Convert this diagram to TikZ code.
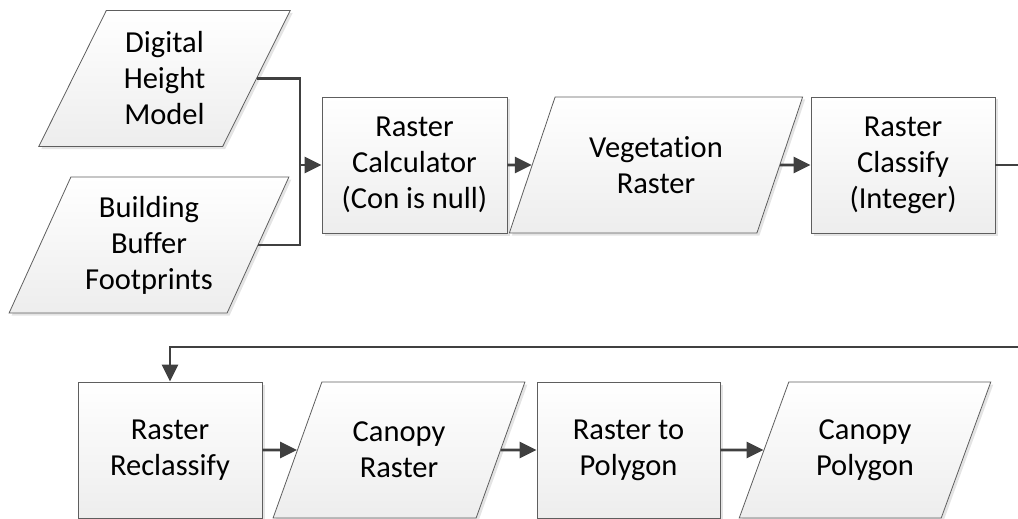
\documentclass[tikz,border=0pt]{standalone}
\usepackage{fontspec}
\setmainfont[Ligatures={NoCommon}]{Carlito}
\usetikzlibrary{shapes.geometric,shadows,arrows.meta}
\definecolor{edgegray}{HTML}{5E5E5E}
\definecolor{linkgray}{HTML}{404040}
\tikzset{
  base/.style={draw=edgegray, line width=0.8pt, top color=white, bottom color=black!7,
    drop shadow={shadow xshift=2.5pt, shadow yshift=-2.5pt, fill=black!15, opacity=0.7},
    align=center, font=\fontsize{30.5}{36}\selectfont, inner sep=2pt},
  procbox/.style={base, rectangle, minimum height=136pt},
  databox/.style={base, trapezium, trapezium left angle=63, trapezium right angle=117,
    trapezium stretches=true, minimum height=136pt},
  link/.style={draw=linkgray, line width=2.8pt, -{Triangle[length=17pt 0,width=16pt 0]}},
  plainlink/.style={draw=linkgray, line width=2.8pt},
}
\begin{document}
\begin{tikzpicture}[x=1pt,y=-1pt]
\useasboundingbox (0,0) rectangle (1018,519);
% top row
\node[databox, minimum width=252pt] (dhm) at (164.5,78.5) {Digital\\Height\\Model};
\node[databox, minimum width=280pt] (bb) at (149,245) {Building\\Buffer\\Footprints};
\node[procbox, minimum width=185pt] (calc) at (414.5,165) {Raster\\Calculator\\(Con is null)};
\node[databox, minimum width=294pt] (veg) at (656,165) {Vegetation\\Raster};
\node[procbox, minimum width=184pt] (cls) at (903,165) {Raster\\Classify\\(Integer)};
% bottom row
\node[procbox, minimum width=184pt] (recl) at (170,450) {Raster\\Reclassify};
\node[databox, minimum width=252pt] (cr) at (399,450) {Canopy\\Raster};
\node[procbox, minimum width=183pt] (r2p) at (628.5,450) {Raster to\\Polygon};
\node[databox, minimum width=252pt] (cp) at (865,450) {Canopy\\Polygon};
% connectors
\coordinate (join) at (300,165);
\coordinate (turn) at (1030,347);
\draw[plainlink] (dhm.east) -| (join);
\draw[plainlink] (bb.east) -| (join);
\draw[link] (join) -- (calc.west);
\draw[link] (calc.east) -- (veg.west);
\draw[link] (veg.east) -- (cls.west);
\draw[link] (cls.east) -| (turn) -| (recl.north);
\draw[link] (recl.east) -- (cr.west);
\draw[link] (cr.east) -- (r2p.west);
\draw[link] (r2p.east) -- (cp.west);
\end{tikzpicture}
\end{document}
